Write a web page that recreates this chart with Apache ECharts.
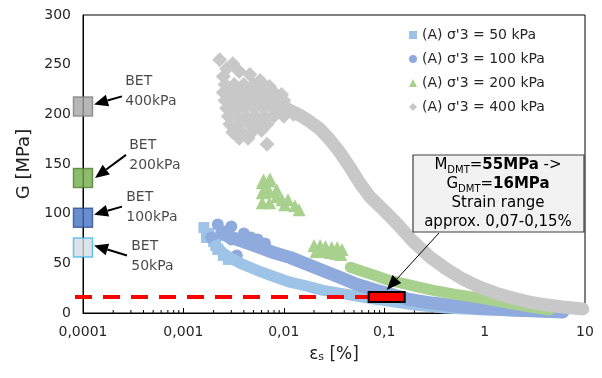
<!DOCTYPE html>
<html>
<head>
<meta charset="utf-8">
<script src="https://cdn.jsdelivr.net/npm/echarts@6/dist/echarts.min.js"></script>
<style>
  html, body { margin: 0; padding: 0; background: #fff; }
  #chart { width: 602px; height: 378px; }
</style>
</head>
<body>
<div id="chart"></div>
<script>
// legend names
const seriesNames = ["(A) σ'3 = 50 kPa", "(A) σ'3 = 100 kPa", "(A) σ'3 = 200 kPa", "(A) σ'3 = 400 kPa"];

// strain [%], G [MPa]
const pts50 = [[0.0016,86],[0.0018,80],[0.0020,72],[0.0022,64],[0.0025,58],[0.0028,54],[0.0021,68],[0.0017,76]];
const band50 = [[0.0021,68],[0.0025,60],[0.003,55],[0.0037,50],[0.0054,43],[0.0078,37],[0.0115,31],[0.017,27],[0.024,23],[0.036,20],[0.053,17],[0.08,14],[0.11,12],[0.2,8],[0.4,5],[1,3],[2,2],[4.7,1]];

const pts100 = [[0.0022,89],[0.003,87],[0.0019,76],[0.0034,58],[0.0026,82],[0.0040,80],[0.0047,76],[0.0030,74],[0.0055,74],[0.0065,70]];
const band100 = [[0.0024,80],[0.003,76],[0.0039,72],[0.0054,67],[0.0078,61],[0.0115,56],[0.017,49],[0.024,43],[0.036,36],[0.053,29],[0.077,24],[0.106,20],[0.17,14],[0.3,10],[0.61,6],[1.9,3],[6,1]];

const pts200 = [[0.0061,131],[0.0071,133],[0.0061,121],[0.0072,122],[0.0085,124],[0.0061,111],[0.0072,111],[0.0096,114],[0.011,114],[0.0129,108],[0.0142,104],[0.0068,126],[0.0085,117],[0.0102,109],[0.0063,134],[0.0073,135],
  [0.020,68],[0.023,68],[0.026,67],[0.030,66],[0.034,66],[0.038,64],[0.021,62],[0.025,62],[0.029,61],[0.033,60],[0.037,59]];
const band200 = [[0.046,46],[0.06,42],[0.08,38],[0.11,33],[0.15,30],[0.2,27],[0.3,23],[0.5,19],[0.9,15],[1.5,11],[2.5,7],[4.4,3]];

const pts400 = [[0.0023,255],[0.0031,251],[0.0027,246],[0.0036,243],[0.0046,240],[0.0025,238],[0.0058,234],
  [0.0026,230],[0.0032,230],[0.0040,230],[0.0050,230],[0.0062,230],[0.0072,228],
  [0.0025,222],[0.0030,222],[0.0036,222],[0.0044,222],[0.0054,222],[0.0066,222],[0.0080,222],[0.0095,220],
  [0.0026,214],[0.0031,214],[0.0038,214],[0.0047,214],[0.0058,214],[0.0070,214],[0.0085,214],[0.0100,214],
  [0.0027,206],[0.0033,206],[0.0040,206],[0.0050,206],[0.0062,206],[0.0076,206],[0.0092,206],[0.0110,206],
  [0.0028,198],[0.0034,198],[0.0042,198],[0.0052,198],[0.0064,198],[0.0080,198],[0.0100,198],[0.0125,200],
  [0.0029,190],[0.0036,190],[0.0045,190],[0.0056,190],[0.0068,190],
  [0.0031,182],[0.0038,182],[0.0048,182],[0.0036,176],[0.0044,176],[0.0060,184],[0.0068,170]];
const band400 = [[0.0100,207],[0.0145,199],[0.018,193],[0.023,185],[0.029,174],[0.036,162],[0.046,146],[0.057,131],[0.072,117],[0.1,103],[0.134,90],[0.19,73],[0.28,57],[0.42,44],[0.61,34],[0.89,26],[1.3,20],[1.9,15],[2.8,11],[4.2,8],[6,6],[9.5,4]];

// BET values at smallest strain
const betX = 0.0001;
const betG = [208, 136, 96, 66];
const betLabels = ['BET\n400kPa', 'BET\n200kPa', 'BET\n100kPa', 'BET\n50kPa'];

// DMT range
const dmtG = 16;
const dmtStrain = [0.07, 0.16];

const minorTicks = [];
[0.0001, 0.001, 0.01, 0.1, 1].forEach(d => { for (let k = 2; k <= 9; k++) minorTicks.push(+(d * k).toPrecision(3)); });

const font = 'DejaVu Sans';
const colors = ['#9DC3E6', '#8FAADC', '#A9D18E', '#C8C8C8'];
const symbols = ['rect', 'circle', 'triangle', 'diamond'];
const betFill = ['#A5A5A5', '#70AD47', '#4472C4', '#D6DCE5'];
const betBorder = ['#7F7F7F', '#507E32', '#2F528F', '#3FB7E8'];
const betLabelOffset = [[0, -15], [4, -23], [1, -10], [6, 9]];

const chart = echarts.init(document.getElementById('chart'));

function band(name, data, color, width) {
  return {
    name: name, type: 'line', data: data, showSymbol: false, silent: true,
    lineStyle: { color: color, width: width, cap: 'round', join: 'round' },
    itemStyle: { color: color }, emphasis: { disabled: true }
  };
}
function pts(name, data, i, size) {
  return {
    name: name, type: 'scatter', data: data, symbol: symbols[i], symbolSize: size, silent: true,
    itemStyle: { color: colors[i], opacity: 1 }, emphasis: { disabled: true }
  };
}

chart.setOption({
  animation: false,
  textStyle: { fontFamily: font },
  grid: { left: 83, right: 17, top: 15, bottom: 65, show: true, borderColor: '#000', borderWidth: 1 },
  legend: {
    data: seriesNames.map((n, i) => ({ name: n, icon: symbols[i], itemStyle: { color: colors[i] } })),
    orient: 'vertical', left: 404, top: 23, itemWidth: 8, itemHeight: 8, itemGap: 10,
    textStyle: { fontFamily: font, fontSize: 14, color: '#262626' }, selectedMode: false
  },
  xAxis: {
    type: 'log', logBase: 10, min: 0.0001, max: 10, splitNumber: 5,
    name: '{e|ε}{s|s}{e| [%]}', nameLocation: 'middle', nameGap: 33,
    nameTextStyle: { rich: { e: { fontSize: 17, fontFamily: font, color: '#222' }, s: { fontSize: 11, fontFamily: font, color: '#222', verticalAlign: 'bottom', lineHeight: 12 } } },
    axisLine: { lineStyle: { color: '#000', width: 1 } },
    axisTick: { inside: true, length: 5, lineStyle: { color: '#000' } },
    splitLine: { show: false },
    axisLabel: { fontSize: 14, color: '#262626', margin: 12, formatter: v => String(+(+v).toPrecision(4)).replace('.', ',') }
  },
  yAxis: {
    type: 'value', min: 0, max: 300, interval: 50,
    name: 'G [MPa]', nameLocation: 'middle', nameGap: 45,
    nameTextStyle: { fontSize: 18, fontFamily: font, color: '#222' },
    axisLine: { show: true, lineStyle: { color: '#000', width: 1 } },
    axisTick: { show: false },
    splitLine: { show: false },
    axisLabel: { fontSize: 14, color: '#262626', margin: 12 }
  },
  series: [
    band('band50', band50, colors[0], 11),
    pts(seriesNames[0], pts50, 0, 11),
    band('band100', band100, colors[1], 13),
    pts(seriesNames[1], pts100, 1, 12),
    band('band200', band200, colors[2], 11),
    pts(seriesNames[2], pts200, 2, 13),
    band('band400', band400, colors[3], 13),
    pts(seriesNames[3], pts400, 3, 15),
    {
      name: 'minor', type: 'custom', silent: true, clip: false,
      data: minorTicks.map(x => [x, 0]),
      renderItem: (params, api) => {
        const p = api.coord([api.value(0), 0]);
        return { type: 'line', shape: { x1: p[0], y1: p[1], x2: p[0], y2: p[1] - 3 }, style: { stroke: '#000', lineWidth: 1 } };
      }
    },
    {
      name: 'BET', type: 'scatter', symbol: 'rect', symbolSize: 19, silent: true, clip: false, z: 5,
      data: betG.map((g, i) => ({
        value: [betX, g],
        itemStyle: { color: betFill[i], borderColor: betBorder[i], borderWidth: 1.5 },
        label: { show: true, formatter: betLabels[i], position: 'right', distance: 32, offset: betLabelOffset[i], fontSize: 14, lineHeight: 20, color: '#1a1a1a', fontFamily: font }
      }))
    }
  ]
});

function arrow(x1, y1, x2, y2, lw, hl, hw) {
  const a = Math.atan2(y2 - y1, x2 - x1);
  const bx = x2 - hl * Math.cos(a), by = y2 - hl * Math.sin(a);
  const px = -Math.sin(a) * hw / 2, py = Math.cos(a) * hw / 2;
  return [
    { type: 'line', z: 100, shape: { x1: x1, y1: y1, x2: bx, y2: by }, style: { stroke: '#000', lineWidth: lw } },
    { type: 'polygon', z: 100, shape: { points: [[x2, y2], [bx + px, by + py], [bx - px, by - py]] }, style: { fill: '#000' } }
  ];
}

const toPx = v => chart.convertToPixel({ xAxisIndex: 0, yAxisIndex: 0 }, v);
const graphics = [];
// BET arrows, from label to square
const arrowFrom = [[39, -10], [43, -23], [39, -11], [44, 8]];
const arrowTo = [[11, -2], [12, 0], [11, -3], [11, -2]];
betG.forEach((g, i) => {
  const c = toPx([betX, g]);
  graphics.push(...arrow(c[0] + arrowFrom[i][0], c[1] + arrowFrom[i][1], c[0] + arrowTo[i][0], c[1] + arrowTo[i][1], 2, 14, 12));
});
// DMT dashed line and range box
const a0 = toPx([0.0001, dmtG]);
const r0 = toPx([dmtStrain[0], dmtG]);
const r1 = toPx([dmtStrain[1], dmtG]);
graphics.push({ type: 'line', z: 100, shape: { x1: a0[0] - 8, y1: a0[1], x2: r0[0], y2: r0[1] }, style: { stroke: '#FF0000', lineWidth: 4, lineDash: [17, 11] } });
graphics.push({ type: 'rect', z: 101, shape: { x: r0[0], y: r0[1] - 5, width: r1[0] - r0[0], height: 10 }, style: { fill: '#FF0000', stroke: '#000', lineWidth: 2 } });
// annotation
graphics.push({ type: 'rect', z: 100, shape: { x: 413, y: 155, width: 171, height: 77 }, style: { fill: '#F2F2F2', stroke: '#404040', lineWidth: 1.2 } });
const n = { fontSize: 15, fontFamily: font, color: '#222', lineHeight: 19 };
graphics.push({
  type: 'text', z: 101, x: 498, y: 156,
  style: {
    text: '{n|M}{s|DMT}{n|=}{b|55MPa}{n| ->}\n{n|G}{s|DMT}{n|=}{b|16MPa}\n{n|Strain range}\n{n|approx. 0,07-0,15%}',
    align: 'center', verticalAlign: 'top',
    rich: { n: n, b: Object.assign({}, n, { fontWeight: 'bold' }), s: { fontSize: 10, fontFamily: font, color: '#222', lineHeight: 12, verticalAlign: 'bottom' } }
  }
});
graphics.push(...arrow(439, 233, (r0[0] + r1[0]) / 2, r0[1] - 7, 1, 15, 12));

chart.setOption({ graphic: graphics });
</script>
</body>
</html>
